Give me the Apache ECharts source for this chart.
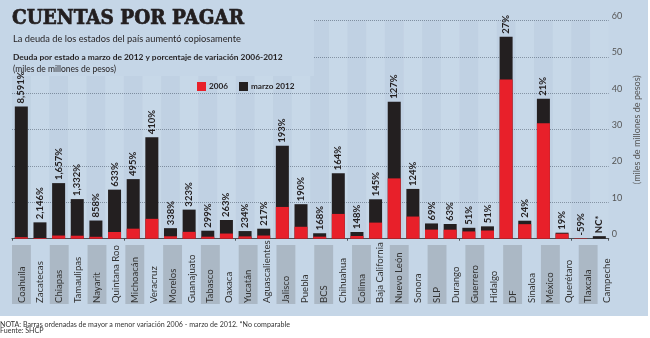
<!DOCTYPE html>
<html><head><meta charset="utf-8">
<script src="https://cdn.jsdelivr.net/npm/echarts@6/dist/echarts.min.js"></script>
<style>html,body{margin:0;padding:0;background:#fff}#c{width:650px;height:338px}</style>
</head><body><div id="c"></div>
<script>
var categories = ['Coahuila','Zacatecas','Chiapas','Tamaulipas','Nayarit','Quintana Roo','Michoacán','Veracruz','Morelos','Guanajuato','Tabasco','Oaxaca','Yucatán','Aguascalientes','Jalisco','Puebla','BCS','Chihuahua','Colima','Baja California','Nuevo León','Sonora','SLP','Durango','Guerrero','Hidalgo','DF','Sinaloa','México','Querétaro','Tlaxcala','Campeche'];
var marzo2012 = [36.4,4.5,15.3,10.9,5.0,13.5,16.4,27.9,2.9,8.0,2.2,5.15,2.1,2.75,25.6,9.5,1.5,18.0,1.85,10.85,37.7,13.7,4.2,4.05,3.0,3.4,55.6,4.95,38.5,1.65,0.05,0.7];
var y2006 = [0.42,0.2,0.87,0.82,0.52,1.84,2.76,5.47,0.66,1.89,0.55,1.42,0.63,0.87,8.74,3.28,0.56,6.82,0.75,4.43,16.6,6.1,2.5,2.48,2.0,2.25,43.8,4.0,31.8,1.39,0.12,0];
var variacion = ['8,591%','2,146%','1,657%','1,332%','858%','633%','495%','410%','338%','323%','299%','263%','234%','217%','193%','190%','168%','164%','148%','145%','127%','124%','69%','63%','51%','51%','27%','24%','21%','19%','-59%','NC*'];
var yTicks = {min:0, max:60, interval:10};

var FONT = 'Lato';
var chart = echarts.init(document.getElementById('c'));
chart.setOption({
  backgroundColor:'#ffffff',
  animation:false,
  graphic:[
    {type:'rect', z:-10, shape:{x:0,y:0,width:648,height:316}, style:{fill:'#c5d6e7'}},
    {type:'rect', z:1, shape:{x:0,y:0,width:314,height:76}, style:{fill:'#c5d6e7'}}
  ],
  title:[
    {text:'CUENTAS POR PAGAR', left:12, top:8, padding:0, z:10, textStyle:{fontFamily:"'DejaVu Serif Condensed','DejaVu Serif'", fontWeight:'bold', fontSize:20.5, color:'#231f20', textBorderColor:'#231f20', textBorderWidth:0.7}},
    {text:'La deuda de los estados del país aumentó copiosamente', left:13, top:34, padding:0, z:10, textStyle:{fontFamily:FONT, fontWeight:'normal', fontSize:9.3, color:'#231f20'}},
    {text:'Deuda por estado a marzo de 2012 y porcentaje de variación 2006-2012', left:13, top:53, padding:0, z:10, textStyle:{fontFamily:FONT, fontWeight:'bold', fontSize:8.4, color:'#231f20'}},
    {text:'(miles de millones de pesos)', left:13, top:64.5, padding:0, z:10, textStyle:{fontFamily:FONT, fontWeight:'normal', fontSize:8.5, color:'#231f20'}},
    {text:'NOTA: Barras ordenadas de mayor a menor variación 2006 - marzo de 2012. *No comparable', left:0, top:320.5, padding:0, textStyle:{fontFamily:FONT, fontWeight:'normal', fontSize:7.1, lineHeight:8, color:'#333'}},
    {text:'Fuente: SHCP', left:0, top:327, padding:0, textStyle:{fontFamily:FONT, fontWeight:'normal', fontSize:7.1, lineHeight:8, color:'#333'}}
  ],
  legend:{
    data:['2006','marzo 2012'], left:197, top:82, padding:0, itemWidth:9, itemHeight:9, itemGap:11, icon:'rect',
    textStyle:{fontFamily:FONT, fontWeight:'bold', fontSize:8.2, color:'#231f20', padding:[0,0,0,-2]}
  },
  grid:[
    {left:12, right:33.5, top:20.7, bottom:99.3},
    {left:12, right:33.5, top:245, bottom:34}
  ],
  xAxis:[
    {type:'category', gridIndex:0, data:categories, boundaryGap:true,
     axisLine:{show:true, lineStyle:{color:'#4a4f55', width:1.2}},
     axisTick:{show:true, length:2, lineStyle:{color:'#4a4f55'}},
     splitArea:{show:true, interval:0, areaStyle:{color:['rgba(90,110,135,0.045)','rgba(255,255,255,0.05)']}},
     axisLabel:{show:false}},
    {type:'category', gridIndex:1, position:'bottom', data:categories, boundaryGap:true,
     axisLine:{show:false}, axisTick:{show:false},
     axisLabel:{show:true, inside:true, interval:0, rotate:90, margin:1, fontFamily:FONT, fontSize:9.6, color:'#333'},
     splitArea:{show:true, interval:0, areaStyle:{color:['#abb8c5','rgba(0,0,0,0)']}}}
  ],
  yAxis:[
    {type:'value', gridIndex:0, position:'right', min:yTicks.min, max:yTicks.max, interval:yTicks.interval,
     axisLine:{show:false}, axisTick:{show:false},
     splitLine:{show:true, lineStyle:{type:'dotted', color:'#7f8fa0', width:1}},
     axisLabel:{margin:3, fontFamily:FONT, fontSize:9, color:'#555', verticalAlign:'bottom'},
     name:'(miles de millones de pesos)', nameLocation:'middle', nameRotate:90, nameGap:19,
     nameTextStyle:{fontFamily:FONT, fontSize:9, color:'#555'}},
    {type:'value', gridIndex:1, min:0, max:1, show:false}
  ],
  series:[
    {name:'marzo 2012', type:'bar', xAxisIndex:0, yAxisIndex:0, data:marzo2012, barWidth:13, itemStyle:{color:'#231f20'},
     label:{show:true, position:'top', rotate:90, align:'left', verticalAlign:'middle', distance:3,
       formatter:function(p){return variacion[p.dataIndex];}, fontFamily:FONT, fontWeight:'bold', fontSize:9.5, color:'#231f20'}},
    {name:'2006', type:'bar', xAxisIndex:0, yAxisIndex:0, data:y2006, barWidth:13, barGap:'-100%', itemStyle:{color:'#e8202a'}, z:3}
  ]
});
</script></body></html>
